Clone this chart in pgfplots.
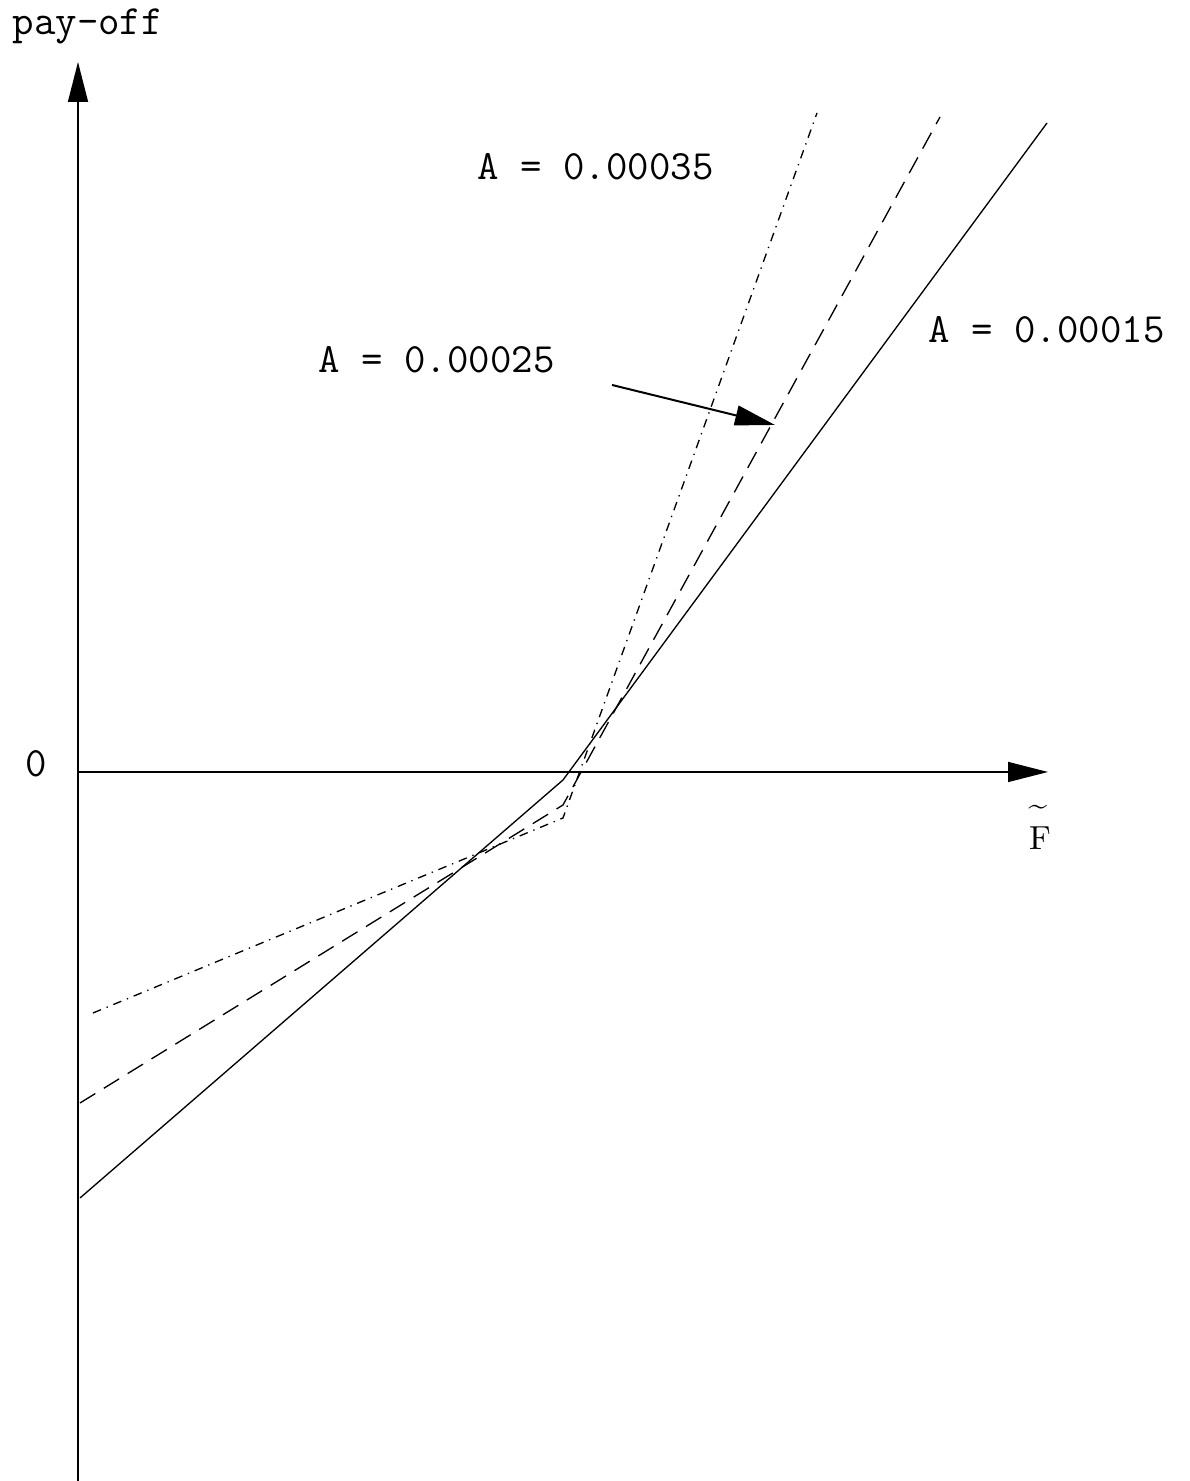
\documentclass[border=0pt]{standalone}
\usepackage{pgfplots}
\pgfplotsset{compat=1.18}
\usetikzlibrary{arrows.meta}

\newcommand{\lbl}{\fontsize{12.5}{14}\selectfont\ttfamily}

\begin{document}
\begin{tikzpicture}
\useasboundingbox (0,0) rectangle (356.7pt,444.3pt);
\begin{axis}[
  anchor=south west, at={(0,0)},
  scale only axis,
  x=30pt, y=30pt,
  xmin=-0.78, xmax=11.11,
  ymin=-7.09, ymax=7.72,
  hide axis,
  clip=false,
]
% coordinate axes
\draw[line width=0.45pt, -{Triangle[length=12pt,width=6pt]}] (axis cs:0,-7.09) -- (axis cs:0,7.10);
\draw[line width=0.45pt, -{Triangle[length=12pt,width=6pt]}] (axis cs:0,0) -- (axis cs:9.70,0);

% pay-off profiles for three values of A
\addplot[black, line width=0.4pt] coordinates {(0.02,-4.26) (4.85,-0.08) (9.69,6.49)};
\addplot[black, line width=0.4pt, dash pattern=on 5.4pt off 3pt] coordinates {(0.02,-3.31) (4.85,-0.33) (8.62,6.55)};
\addplot[black, line width=0.4pt, dash pattern=on 2.6pt off 1.8pt on 0.4pt off 1.8pt] coordinates {(0.15,-2.41) (4.85,-0.46) (7.39,6.59)};

% labels
\node[inner sep=0pt, anchor=base west, font=\lbl] at (axis cs:-0.66,7.37) {pay-off};
\node[inner sep=0pt, font=\lbl] at (axis cs:-0.42,0.08) {0};
\node[inner sep=0pt, font=\fontsize{10}{12}\selectfont] at (axis cs:9.62,-0.66) {F};
\node[inner sep=0pt, font=\fontsize{10}{12}\selectfont] at (axis cs:9.60,-0.38) {\char`\~};
\node[inner sep=0pt, anchor=base west, font=\lbl] at (axis cs:3.99,5.92) {A = 0.00035};
\node[inner sep=0pt, anchor=base west, font=\lbl] at (axis cs:8.50,4.29) {A = 0.00015};
\node[inner sep=0pt, anchor=base west, font=\lbl] at (axis cs:2.40,3.99) {A = 0.00025};
\draw[line width=0.6pt, -{Triangle[length=12pt,width=6pt]}] (axis cs:5.34,3.87) -- (axis cs:6.97,3.47);
\end{axis}
\end{tikzpicture}
\end{document}
